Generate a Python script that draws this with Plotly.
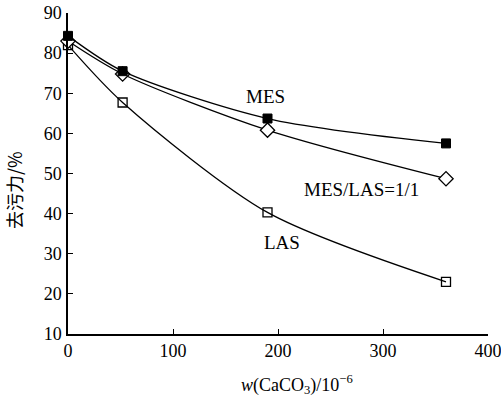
import plotly.graph_objects as go

x_vals = [0, 52, 190, 360]
mes = [84.3, 75.5, 63.7, 57.5]
mes_las = [83.0, 74.8, 60.8, 48.7]
las = [82.0, 67.7, 40.3, 23.0]

x_ticks = [0, 100, 200, 300, 400]
y_ticks = [10, 20, 30, 40, 50, 60, 70, 80, 90]

serif = "Liberation Serif, Times New Roman, serif"

fig = go.Figure()

line_style = dict(color="black", width=1.3, shape="spline", smoothing=0.8)

fig.add_trace(go.Scatter(x=x_vals, y=las, mode="lines+markers", line=line_style,
                         marker=dict(symbol="square-open", size=9, color="black",
                                     line=dict(width=1.3, color="black")),
                         cliponaxis=False, showlegend=False))
fig.add_trace(go.Scatter(x=x_vals, y=mes_las, mode="lines+markers", line=line_style,
                         marker=dict(symbol="diamond", size=11, color="white",
                                     line=dict(width=1.3, color="black")),
                         cliponaxis=False, showlegend=False))
fig.add_trace(go.Scatter(x=x_vals, y=mes, mode="lines+markers", line=line_style,
                         marker=dict(symbol="square", size=9, color="black",
                                     line=dict(width=1, color="black")),
                         cliponaxis=False, showlegend=False))

label_font = dict(size=19, family=serif, color="black")
annots = [
    dict(x=168, y=69.2, text="MES"),
    dict(x=223, y=46.0, text="MES/LAS=1/1"),
    dict(x=185, y=32.8, text="LAS"),
]
for a in annots:
    fig.add_annotation(x=a["x"], y=a["y"], text=a["text"], showarrow=False,
                       xanchor="left", yanchor="middle", font=label_font)

fig.add_annotation(x=0.545, xref="paper", y=-0.158, yref="paper",
                   text="<i>w</i>(CaCO<sub>3</sub>)/10<sup>−6</sup>", showarrow=False,
                   xanchor="center", yanchor="middle",
                   font=dict(size=18, family=serif, color="black"))
fig.add_annotation(x=-0.13, xref="paper", y=0.45, yref="paper",
                   text="去污力/%", textangle=-90, showarrow=False,
                   xanchor="center", yanchor="middle",
                   font=dict(size=18, family="Noto Sans CJK SC", color="black"))

fig.update_xaxes(range=[0, 400], tickvals=x_ticks, ticks="inside", ticklen=5,
                 tickwidth=1.3, tickcolor="black", showline=True, linecolor="black",
                 linewidth=1.5, showgrid=False, zeroline=False, automargin=False,
                 ticklabeloverflow="allow",
                 tickfont=dict(size=18, family=serif, color="black"))
fig.update_yaxes(range=[10, 90], tickvals=y_ticks, ticks="inside", ticklen=5,
                 tickwidth=1.3, tickcolor="black", showline=True, linecolor="black",
                 linewidth=1.5, showgrid=False, zeroline=False, automargin=False,
                 ticklabelstandoff=1, ticklabeloverflow="allow",
                 tickfont=dict(size=18, family=serif, color="black"))

fig.update_layout(width=501, height=399, margin=dict(l=68, r=13, t=13, b=65),
                  plot_bgcolor="white", paper_bgcolor="white")

fig.write_html("out.html")
